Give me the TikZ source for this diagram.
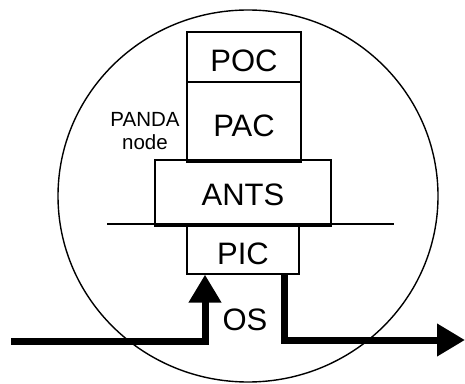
\documentclass[tikz,border=0pt]{standalone}
\usepackage{fontspec}
\setmainfont{Liberation Sans}
\usetikzlibrary{arrows.meta}
\begin{document}
\begin{tikzpicture}[x=1pt,y=1pt,
  box/.style={draw, line width=1.2pt, inner sep=0pt, font=\fontsize{31}{31}\selectfont, text height=30pt, text depth=0pt},
  flow/.style={line width=7pt, -{Triangle[width=31pt,length=28pt]}},
  lab/.style={inner sep=0pt}]
\useasboundingbox (0,0) rectangle (465,383);
\draw[line width=1.4pt] (248,187) ellipse [x radius=190, y radius=186];
\draw[line width=1.1pt] (107,159) -- (394,159);
\node[box, minimum width=114pt, minimum height=50pt] (poc) at (244,326) {POC};
\node[box, minimum width=114pt, minimum height=80pt] (pac) at (244,261) {PAC};
\node[box, minimum width=176pt, minimum height=66pt, text height=24pt] (ants) at (243,190) {ANTS};
\node[box, minimum width=112pt, minimum height=49pt] (pic) at (243,133.5) {PIC};
\node[lab, align=center, font=\fontsize{20.5}{23}\selectfont] (panda) at (145,252) {PANDA\\node};
\node[lab, font=\fontsize{31}{31}\selectfont] (os) at (245,63) {OS};
\coordinate (in) at (11,42);
\coordinate (out) at (465,43);
\draw[flow] (in) -| ([xshift=-38pt]pic.south);
\draw[flow] ([xshift=41pt,yshift=1pt]pic.south) |- (out);
\end{tikzpicture}
\end{document}
